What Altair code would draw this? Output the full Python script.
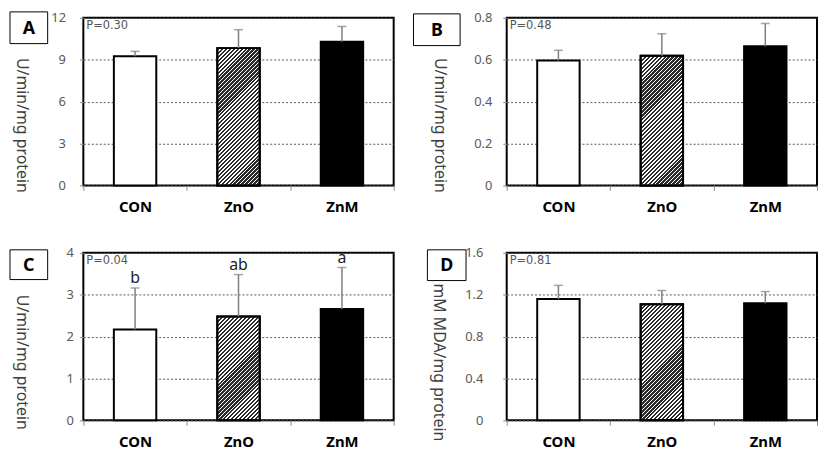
import math
import altair as alt
import pandas as pd

# ---------------- data ----------------
groups = ["CON", "ZnO", "ZnM"]

a_mean = [9.25, 9.83, 10.28]
a_err = [0.35, 1.32, 1.10]

b_mean = [0.596, 0.619, 0.664]
b_err = [0.049, 0.105, 0.109]

c_mean = [2.17, 2.48, 2.66]
c_err = [0.99, 1.00, 0.99]
c_letters = ["b", "ab", "a"]

d_mean = [1.158, 1.109, 1.118]
d_err = [0.131, 0.131, 0.112]

panel_ids = ["A", "B", "C", "D"]
y_titles = ["U/min/mg protein", "U/min/mg protein", "U/min/mg protein", "mM MDA/mg protein"]
y_max = [12, 0.8, 4, 1.6]
y_ticks = [[0, 3, 6, 9, 12], [0, 0.2, 0.4, 0.6, 0.8], [0, 1, 2, 3, 4], [0, 0.4, 0.8, 1.2, 1.6]]
p_texts = ["P=0.30", "P=0.48", "P=0.04", "P=0.81"]

# ---------------- style ----------------
W, H = 313, 169
BAR_FRAC = 0.41
FONT = "Noto Sans"
fills = {"CON": "white", "ZnM": "black"}
CLEAR = "rgba(255,255,255,0)"


def hatch_gradients(bar_w, bar_h, period=2.8284, dark_frac=0.58, dark="#2b2b2b", per_seg=8):
    """Diagonal (///) hatch split into several short striped linear gradients
    (each covering one slice of the bar's diagonal, transparent elsewhere)."""
    a = bar_w / bar_h
    k = (a + 1) / (a * a + 1)
    vx, vy = k * a, k
    L = (bar_w + bar_h) / math.sqrt(2)
    nf = L / period
    lf = 1 - dark_frac
    grads = []
    u0 = 0.0
    while u0 < nf - 0.2:
        u1 = min(u0 + per_seg, nf)
        span = u1 - u0
        stops = [{"offset": 0, "color": CLEAR}]
        i = int(u0)
        while i < u1:
            d0 = i + lf / 2
            d1 = min(d0 + dark_frac, u1)
            if d0 < u1:
                o0 = round((d0 - u0) / span, 6)
                o1 = round((d1 - u0) / span, 6)
                stops += [
                    {"offset": o0, "color": CLEAR},
                    {"offset": o0, "color": dark},
                    {"offset": o1, "color": dark},
                    {"offset": o1, "color": CLEAR},
                ]
            i += 1
        stops.append({"offset": 1, "color": CLEAR})
        grads.append({
            "gradient": "linear",
            "x1": u0 / nf * vx, "y1": u0 / nf * vy,
            "x2": u1 / nf * vx, "y2": u1 / nf * vy,
            "stops": stops,
        })
        u0 = u1
    return grads


def panel(pid, means, errs, ymax, ticks, ytitle, ptext, layout, letters=None):
    df = pd.DataFrame({"g": groups, "m": means, "u": [m + e for m, e in zip(means, errs)]})
    if letters is not None:
        df["lab"] = letters

    yaxis = alt.Axis(
        values=ticks, format="~g", title=ytitle, titleAngle=90,
        titleX=layout["tx"], titleY=layout["ty"], titleAlign="center", titleBaseline="middle",
        labelPadding=layout["lp"],
    )
    x_enc = alt.X("g:N", sort=groups, scale=alt.Scale(domain=groups, paddingInner=0, paddingOuter=0),
                  axis=alt.Axis(title=None, tickBand="extent", labelAngle=0))
    y_enc = alt.Y("m:Q", scale=alt.Scale(domain=[0, ymax], nice=False, zero=True), axis=yaxis)
    yu_enc = alt.Y("u:Q", scale=alt.Scale(domain=[0, ymax], nice=False), axis=yaxis)
    bw = alt.RelativeBandSize(BAR_FRAC)

    layers = []
    for g in groups:
        base = alt.Chart(df).transform_filter(alt.datum.g == g)
        fill = fills.get(g, "white")
        layers.append(
            base.mark_bar(fill=fill, stroke="black", strokeWidth=2, width=bw).encode(x=x_enc, y=y_enc)
        )
        if g == "ZnO":
            v = means[groups.index(g)]
            for grad in hatch_gradients(W / 3 * BAR_FRAC, v / ymax * H):
                layers.append(
                    base.mark_bar(fill=grad, strokeWidth=0, width=bw).encode(x=x_enc, y=y_enc)
                )
            layers.append(
                base.mark_bar(fillOpacity=0, fill="white", stroke="black", strokeWidth=2, width=bw)
                .encode(x=x_enc, y=y_enc)
            )
    layers.append(
        alt.Chart(df).mark_rule(color="#7f7f7f", strokeWidth=1.5)
        .encode(x=x_enc, y=y_enc, y2="u:Q")
    )
    layers.append(
        alt.Chart(df).mark_tick(color="#7f7f7f", thickness=1.5, size=9)
        .encode(x=x_enc, y=yu_enc)
    )
    if letters is not None:
        layers.append(
            alt.Chart(df).mark_text(font=FONT, fontSize=16, color="#222", baseline="bottom", dy=-2)
            .encode(x=x_enc, y=yu_enc, text="lab:N")
        )
    one = pd.DataFrame({"p": [ptext], "id": [pid]})
    layers.append(
        alt.Chart(one).mark_text(font="DejaVu Sans", fontSize=11.5, color="#555", align="left", baseline="middle")
        .encode(x=alt.value(3), y=alt.value(8), text="p:N")
    )
    layers.append(
        alt.Chart(one).mark_rect(fill="white", stroke="black", strokeWidth=1)
        .encode(x=alt.value(layout["bx"][0]), x2=alt.value(layout["bx"][1]),
                y=alt.value(layout["by"][0]), y2=alt.value(layout["by"][1]))
    )
    layers.append(
        alt.Chart(one).mark_text(font=FONT, fontSize=18, fontWeight="bold", color="black",
                                 align="center", baseline="middle")
        .encode(x=alt.value((layout["bx"][0] + layout["bx"][1]) / 2),
                y=alt.value((layout["by"][0] + layout["by"][1]) / 2 + 1), text="id:N")
    )
    return alt.layer(*layers).properties(width=W, height=H)


pA = panel("A", a_mean, a_err, y_max[0], y_ticks[0], y_titles[0], p_texts[0],
           {"tx": -62, "ty": 108, "lp": 14, "bx": (-74, -36), "by": (-6, 26)})
pB = panel("B", b_mean, b_err, y_max[1], y_ticks[1], y_titles[1], p_texts[1],
           {"tx": -68, "ty": 108, "lp": 11, "bx": (-94, -47), "by": (-4, 28)})
pC = panel("C", c_mean, c_err, y_max[2], y_ticks[2], y_titles[2], p_texts[2],
           {"tx": -62, "ty": 110, "lp": 6, "bx": (-74, -36), "by": (-3, 27)}, letters=c_letters)
pD = panel("D", d_mean, d_err, y_max[3], y_ticks[3], y_titles[3], p_texts[3],
           {"tx": -69, "ty": 110, "lp": 20, "bx": (-80, -41), "by": (-3, 28)})

chart = (
    alt.vconcat(
        alt.hconcat(pA, pB, spacing=16),
        alt.hconcat(pC, pD, spacing=30),
        spacing=31,
    )
    .properties(padding=0)
    .configure_view(stroke="black", strokeWidth=2)
    .configure_axis(
        domain=False,
        tickColor="#8c8c8c", tickSize=4, tickWidth=1,
        grid=True, gridColor="#555555", gridDash=[2, 2], gridWidth=1,
        labelFont=FONT, labelFontSize=13, labelColor="#595959",
        titleFont=FONT, titleFontSize=16, titleFontWeight="normal", titleColor="#404040",
    )
    .configure_axisX(
        grid=False, tickSize=5, labelFont=FONT, labelFontSize=15, labelFontWeight="bold",
        labelColor="black", labelPadding=9, labelAngle=0,
    )
)

chart.save("out.html", embed_options={"renderer": "svg", "actions": False})
